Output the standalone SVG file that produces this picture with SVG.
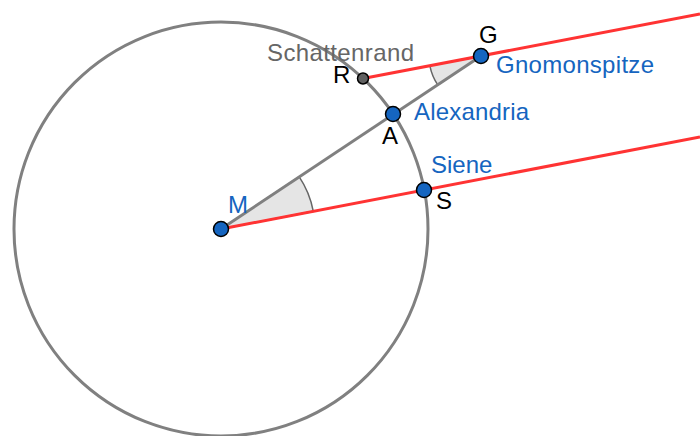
<svg xmlns="http://www.w3.org/2000/svg" width="700" height="436" viewBox="0 0 700 436">
<style>
.lbl{font-family:"Liberation Sans",Arial,sans-serif;font-size:24px}
.blue{fill:#1565c0}
.blk{fill:#000}
.gry{fill:#666}
.gl{stroke:#808080;stroke-width:3;fill:none}
.rl{stroke:#ff3333;stroke-width:3;fill:none}
.ang{fill:#e5e5e5;stroke:#666;stroke-width:1.5}
.pt{fill:#1565c0;stroke:#000;stroke-width:1.5}
.pt2{fill:#606060;stroke:#000;stroke-width:1.5}
</style>
<rect width="700" height="436" fill="#fff"/>
<g id="angles">
<path class="ang" d="M221 229 L313.3 211.3 A94 94 0 0 0 299.1 176.7 Z"/>
<path class="ang" d="M481 56 L429.9 65.8 A52 52 0 0 0 437.8 84.9 Z"/>
</g>
<g id="circle">
<circle class="gl" cx="221" cy="229" r="207"/>
</g>
<g id="connectors">
<line class="gl" x1="221" y1="229" x2="481" y2="56"/>
<line class="rl" x1="221" y1="229" x2="700" y2="137"/>
<line class="rl" x1="363" y1="78.5" x2="700" y2="14"/>
</g>
<g id="M"><circle class="pt" cx="221" cy="229" r="7.5"/><text class="lbl blue" x="228" y="213">M</text></g>
<g id="S"><circle class="pt" cx="424" cy="190" r="7.5"/><text class="lbl blk" x="436" y="209">S</text><text class="lbl blue" x="431" y="173">Siene</text></g>
<g id="A"><circle class="pt" cx="393" cy="114" r="7.5"/><text class="lbl blk" x="382" y="144">A</text><text class="lbl blue" x="414" y="120" textLength="115" lengthAdjust="spacing">Alexandria</text></g>
<g id="G"><circle class="pt" cx="481" cy="56" r="7.5"/><text class="lbl blk" x="479" y="43">G</text><text class="lbl blue" x="496" y="73" textLength="158" lengthAdjust="spacing">Gnomonspitze</text></g>
<g id="R"><circle class="pt2" cx="363" cy="78.5" r="5.5"/><text class="lbl blk" x="333" y="83">R</text><text class="lbl gry" x="267" y="61" textLength="147" lengthAdjust="spacing">Schattenrand</text></g>
</svg>
